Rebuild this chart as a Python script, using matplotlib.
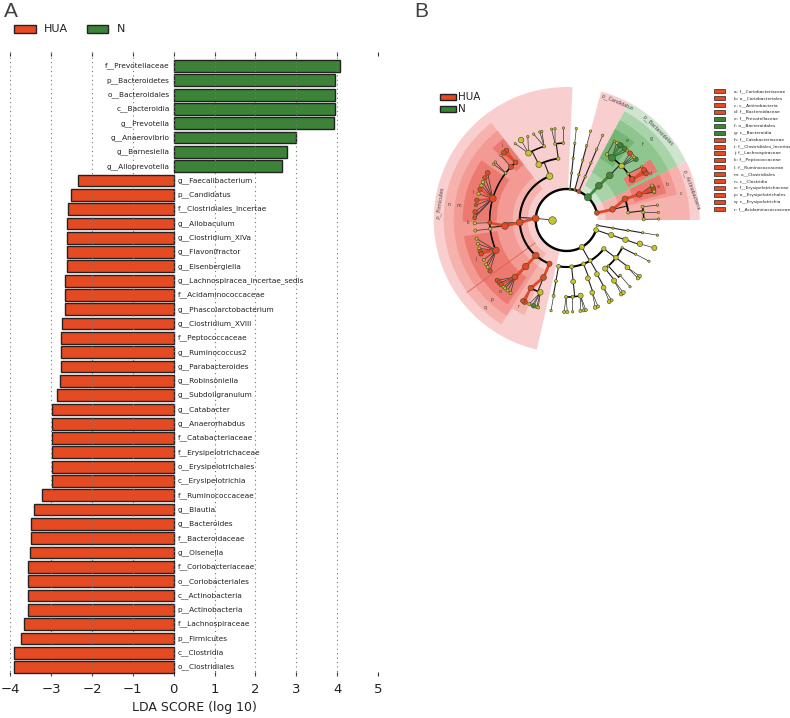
import numpy as np
import matplotlib
matplotlib.use('Agg')
import matplotlib.pyplot as plt
from matplotlib.patches import Rectangle

W, H = 790, 718
RED = '#e64a22'
GREEN = '#3c8338'
YEL = '#c4c42e'
COLS = {'r': '#e04a28', 'g': '#3d8a3d', 'y': YEL}

# ---- panel A data
hua_n_labels = ['f__Prevotellaceae', 'p__Bacteroidetes', 'o__Bacteroidales', 'c__Bacteroidia', 'g__Prevotella',
                'g__Anaerovibrio', 'g__Barnesiella', 'g__Alloprevotella', 'g__Faecalibacterium', 'p__Candidatus',
                'f__Clostridiales_Incertae', 'g__Allobaculum', 'g__Clostridium_XIVa', 'g__Flavonifractor',
                'g__Eisenbergiella', 'g__Lachnospiracea_incertae_sedis', 'f__Acidaminococcaceae',
                'g__Phascolarctobacterium', 'g__Clostridium_XVIII', 'f__Peptococcaceae', 'g__Ruminococcus2',
                'g__Parabacteroides', 'g__Robinsoniella', 'g__Subdoligranulum', 'g__Catabacter', 'g__Anaerorhabdus',
                'f__Catabacteriaceae', 'f__Erysipelotrichaceae', 'o__Erysipelotrichales', 'c__Erysipelotrichia',
                'f__Ruminococcaceae', 'g__Blautia', 'g__Bacteroides', 'f__Bacteroidaceae', 'g__Olsenella',
                'f__Coriobacteriaceae', 'o__Coriobacteriales', 'c__Actinobacteria', 'p__Actinobacteria',
                'f__Lachnospiraceae', 'p__Firmicutes', 'c__Clostridia', 'o__Clostridiales']
lda_scores = [4.08, 3.95, 3.95, 3.95, 3.92, 3.0, 2.77, 2.65, -2.35, -2.52, -2.58, -2.6, -2.61, -2.61, -2.61,
              -2.66, -2.66, -2.67, -2.74, -2.75, -2.75, -2.76, -2.78, -2.86, -2.97, -2.97, -2.97, -2.99, -2.99,
              -2.99, -3.22, -3.41, -3.49, -3.49, -3.53, -3.56, -3.56, -3.56, -3.56, -3.67, -3.75, -3.91, -3.91]
x_ticks = [-4, -3, -2, -1, 0, 1, 2, 3, 4, 5]

# ---- panel B data: tree, one set of lists per rank (angle in degrees, parent = index in rank above)
root_angle, root_size = 180, 30
level_radius = [15, 31, 47, 62, 77, 92]

phylum_angle = [177, 67, 84, 75, 47, 13.3, 350, 341.2, 299.3]
phylum_col = 'rryygryyy'
phylum_size = [24, 8, 2, 2, 26, 12, 3, 12, 14]

class_angle = [111.3, 183, 229, 248.5, 67, 84, 75, 46.8, 13, 350, 341.4, 322.3, 300, 291, 276, 260]
class_parent = [0, 0, 0, 0, 1, 2, 3, 4, 5, 6, 7, 8, 8, 8, 8, 8]
class_col = 'yrrryyygryyyyyyy'
class_size = [22, 24, 22, 14, 3, 3, 3, 24, 16, 3, 14, 10, 8, 8, 8, 8]

order_angle = [116.7, 97.8, 185.5, 228.6, 248, 67, 84, 75, 46, 19.8, 6.9, 350.4, 341.4, 333.4, 322.6, 312.2,
               308.4, 299.2, 290, 276, 260]
order_parent = [0, 0, 1, 2, 3, 4, 5, 6, 7, 8, 8, 9, 10, 11, 11, 11, 11, 12, 13, 14, 15]
order_col = 'yyrrryyygryyyyyyyyyyy'
order_size = [18, 6, 24, 22, 18, 3, 3, 3, 24, 18, 5, 3, 16, 3, 12, 3, 14, 12, 12, 12, 5]

family_angle = [119.7, 107, 98.7, 92.5, 131.6, 136.4, 142.5, 163.8, 182, 186.6, 203.2, 227.8, 242.2, 250, 67, 84,
                75, 58.4, 54, 44.5, 37, 31.8, 19.4, 9.9, 5.7, 0.5, 350.5, 342, 333.6, 322, 314, 308, 298.6, 289.4,
                280.4, 274.4, 269.5, 260.2]
family_parent = [0, 0, 1, 1, 2, 2, 2, 2, 2, 2, 2, 3, 4, 4, 5, 6, 7, 8, 8, 8, 8, 8, 9, 10, 10, 10, 11, 12, 13, 14,
                 15, 16, 17, 18, 19, 19, 19, 20]
family_col = 'yyyyrryrryrrryyyyygyyrryyyyyyyyyyyyyyy'
family_size = [18, 5, 4, 4, 12, 14, 4, 24, 8, 6, 22, 18, 16, 16, 3, 3, 3, 6, 26, 16, 4, 18, 16, 5, 5, 5, 3, 16, 3,
               12, 3, 14, 12, 12, 14, 5, 5, 5]

genus_angle = [124, 119.7, 115, 111, 107, 105.7, 99.4, 97.3, 92, 131, 133, 135.6, 140.9, 142.6,
               149.2, 152.7, 155.7, 158, 160.5, 163.4, 167.6, 170.7, 174.9, 177.5, 178.6, 182, 186.6,
               191.7, 195, 198, 200, 201.6, 205.6, 208.9, 210.8, 213.6,
               221, 223, 224.6, 226.6, 228, 230, 232.4, 242.9, 241.5, 246, 248, 249, 251, 252,
               67, 84, 75, 59, 49, 51, 54, 55, 57, 41.3, 43, 44.5, 46.5, 35.3, 31.7, 30.5, 33,
               20.5, 19, 22, 17.5, 18, 9.3, 4.7, 0.6, 350.5, 342.3, 333.4, 322.3, 320.7, 313.5, 306.4, 308,
               297.5, 299.2, 288.1, 289.9, 278.6, 280.7, 282, 273.7, 270.4, 268.4, 260.2]
genus_parent = [0, 0, 0, 1, 1, 1, 2, 2, 3, 4, 4, 5, 6, 6,
                7, 7, 7, 7, 7, 7, 7, 7, 7, 7, 7, 8, 9,
                10, 10, 10, 10, 10, 10, 10, 10, 10,
                11, 11, 11, 11, 11, 11, 11, 12, 12, 13, 13, 13, 13, 13,
                14, 15, 16, 17, 18, 18, 18, 18, 18, 19, 19, 19, 19, 20, 21, 21, 21,
                22, 22, 22, 22, 22, 23, 24, 25, 26, 27, 28, 29, 29, 30, 31, 31,
                32, 32, 33, 33, 34, 34, 34, 35, 36, 36, 37]
genus_col = ('yyy' 'yyy' 'yy' 'y' 'rr' 'y' 'yy'
             'rryyryrrry' 'r' 'y' 'y'
             'yyyrryyyr'
             'rrryyyy' 'rr' 'yygyy'
             'yyy' 'y' 'yggg' 'y' 'gyyr' 'y' 'rrr'
             'rryyy' 'yyy' 'y' 'y' 'y' 'yy' 'y' 'yy'
             'yy' 'yy' 'yyy' 'y' 'yy' 'y')
genus_size = [3, 16, 3, 3, 3, 3, 3, 3, 3, 12, 12, 3, 3, 3,
              12, 10, 6, 6, 10, 6, 10, 6, 10, 6, 8, 6, 5,
              5, 5, 5, 10, 10, 5, 5, 5, 10,
              10, 10, 10, 5, 5, 5, 5, 14, 10, 5, 5, 10, 5, 5,
              3, 3, 3, 3, 5, 12, 14, 12, 5, 12, 5, 5, 12, 3, 12, 12, 12,
              12, 10, 5, 5, 5, 3, 3, 3, 3, 14, 3, 8, 6, 3, 8, 8,
              8, 5, 8, 5, 5, 5, 5, 3, 5, 5, 3]

# clade background: start, end, inner radius, outer radius, colour
bg_start = [87.5, 62, 26, 0, 127.8, 216, 26, 0, 127.8, 216, 238, 26, 13,
            127.8, 145, 189, 216, 49, 28, 15]
bg_end = [257, 75, 62, 26, 216, 238, 62, 26, 216, 238, 246, 62, 26,
          136, 181, 216, 235, 62, 36, 26]
bg_inner = [31, 31, 31, 31, 39, 39, 39, 39, 54, 54, 54, 54, 54, 70, 70, 70, 70, 70, 70, 70]
bg_outer = [133, 133, 133, 133, 123, 123, 123, 123, 113, 113, 104, 113, 113,
            103, 104, 104, 103, 103, 103, 103]
bg_col = ['#f9cece', '#f9cece', '#cfe5cf', '#f9cece', '#f6b3ae', '#f6b3ae', '#a9d3a9', '#f6b3ae',
          '#f29a93', '#f29a93', '#f6b3ae', '#8fc58f', '#f29a93',
          '#ec7a70', '#ec7a70', '#ec7a70', '#ec7a70', '#76b576', '#ec7a70', '#ec7a70']

clade_labels = ['p__Firmicutes', 'p__Candidatus', 'p__Bacteroidetes', 'p__Actinobacteria']
clade_label_angle = [172.4, 66.8, 44.7, 13.6]
clade_label_rot = [82, -23, -45, -70]
letter_text = list('nmlkjiqpor') + list('abcdefg')
letter_angle = [172.7, 172.6, 163.4, 181.7, 203, 131, 227, 227, 227, 241, 20, 19.6, 13, 29, 52.7, 44.6, 44]
letter_radius = [119, 109, 98, 99, 99, 99, 119, 109, 98, 98.5, 97, 107, 117, 96, 100, 107, 117]

key_labels = ['a: f__Coriobacteriaceae', 'b: o__Coriobacteriales', 'c: c__Actinobacteria', 'd: f__Bacteroidaceae',
              'e: f__Prevotellaceae', 'f: o__Bacteroidales', 'g: c__Bacteroidia', 'h: f__Catabacteriaceae',
              'i: f__Clostridiales_Incertae', 'j: f__Lachnospiraceae', 'k: f__Peptococcaceae',
              'l: f__Ruminococcaceae', 'm: o__Clostridiales', 'n: c__Clostridia', 'o: f__Erysipelotrichaceae',
              'p: o__Erysipelotrichales', 'q: c__Erysipelotrichia', 'r: f__Acidaminococcaceae']
key_groups = 'rrrrgggrrrrrrrrrrr'


def fx(px):
    return px / W


def fy(py):
    return 1 - py / H


def swatch(fig, x0, y0, w, h, col, lw=1.0):
    fig.add_artist(Rectangle((fx(x0), fy(y0 + h)), w / W, h / H, transform=fig.transFigure,
                             facecolor=col, edgecolor='#222222', linewidth=lw))


fig = plt.figure(figsize=(W / 100, H / 100), dpi=100)

# ---- panel A
ax = fig.add_axes([fx(10.3), fy(676), fx(378) - fx(10.3), fy(52) - fy(676)])
n = len(lda_scores)
ypos = [n - 1 - i for i in range(n)]
bar_cols = [GREEN if v > 0 else RED for v in lda_scores]
ax.barh(ypos, lda_scores, height=0.82, color=bar_cols, edgecolor='#222222', linewidth=1.0, zorder=2)
for y, v, lab in zip(ypos, lda_scores, hua_n_labels):
    if v > 0:
        ax.text(-0.1, y, lab, ha='right', va='center', fontsize=5.3, color='#222222', zorder=5)
    else:
        ax.text(0.1, y, lab, ha='left', va='center', fontsize=5.3, color='#222222', zorder=5)
for t in x_ticks:
    # the last gridline only shows in the lower half of the original
    y_top = 19.5 if t == 5 else 42.98
    ax.vlines(t, -0.63, y_top, color='#777777', linewidth=0.8, linestyle=(0, (1, 3)), zorder=3)
ax.set_xlim(-4, 5)
ax.set_ylim(-0.63, 42.98)
ax.set_yticks([])
ax.set_xticks(x_ticks)
ax.tick_params(axis='x', top=True, bottom=True, direction='in', length=3, width=0.8, color='#333333',
               labelsize=9.5, pad=5, labelcolor='#222222')
for s in ax.spines.values():
    s.set_visible(False)
ax.set_xlabel('LDA SCORE (log 10)', fontsize=9, color='#222222', labelpad=4)

fig.text(fx(11), fy(17), 'A', fontsize=15, color='#404040', family='Liberation Sans', ha='center', va='baseline')
fig.text(fx(421), fy(17), 'B', fontsize=15, color='#404040', family='Liberation Sans', ha='center', va='baseline')

swatch(fig, 14, 25, 22, 8, RED)
fig.text(fx(44), fy(29), 'HUA', fontsize=8, color='#222222', va='center')
swatch(fig, 87, 25, 21, 8, GREEN)
fig.text(fx(117), fy(29), 'N', fontsize=8, color='#222222', va='center')

# ---- panel B
cx, cy, rmax = 566.7, 220, 140
pol = fig.add_axes([fx(cx - rmax), fy(cy + rmax), 2 * rmax / W, 2 * rmax / H], projection='polar')
pol.set_ylim(0, rmax)
pol.axis('off')
for a, b, r0, r1, c in zip(bg_start, bg_end, bg_inner, bg_outer, bg_col):
    pol.bar(np.radians(a), r1 - r0, width=np.radians(b - a), bottom=r0, align='edge', color=c, linewidth=0, zorder=1)
pol.plot(np.radians([216, 216]), [39, 123], color='#d9605a', linewidth=0.6, zorder=1.5)

ranks = [
    ([root_angle], [-1], 'y', [root_size]),
    (phylum_angle, [0] * len(phylum_angle), phylum_col, phylum_size),
    (class_angle, class_parent, class_col, class_size),
    (order_angle, order_parent, order_col, order_size),
    (family_angle, family_parent, family_col, family_size),
    (genus_angle, genus_parent, genus_col, genus_size),
]
arc_width = [0, 1.6, 1.5, 1.3, 1.1]

for lev in range(2, 6):
    ang, par, col, size = ranks[lev]
    p_ang, p_col = ranks[lev - 1][0], ranks[lev - 1][2]
    r0, r1 = level_radius[lev - 1], level_radius[lev]
    if lev == 5:
        # genera fan straight out of the family
        for a, p, c in zip(ang, par, col):
            pol.plot(np.radians([p_ang[p], a]), [r0, r1], color='#333333', linewidth=0.5, zorder=3)
            if c == p_col[p] and c != 'y' and abs(a - p_ang[p]) < 4:
                pol.plot(np.radians([p_ang[p], a]), [r0, r1], color=COLS[c], linewidth=1.2, zorder=3.1)
    else:
        for p in sorted(set(par)):
            kids = [a for a, q in zip(ang, par) if q == p]
            lo, hi = min(kids + [p_ang[p]]), max(kids + [p_ang[p]])
            th = np.radians(np.linspace(lo, hi, 60))
            if hi - lo > 1:
                pol.plot(th, [r1] * 60, color='black', linewidth=arc_width[lev], zorder=3, solid_capstyle='round')
            pol.plot(np.radians([p_ang[p], p_ang[p]]), [r0, r1], color='#222222', linewidth=0.8, zorder=3)
            for a, q, c in zip(ang, par, col):
                if q == p and c == p_col[p] and c != 'y' and abs(a - p_ang[p]) < 7:
                    pol.plot(np.radians([p_ang[p], a]), [r0, r1], color=COLS[c], linewidth=2.0, zorder=3.1)
    pol.scatter(np.radians(ang), [r1] * len(ang), s=size, c=[COLS[c] for c in col],
                edgecolors='#444422', linewidths=0.4, zorder=4)

# the inner ring is one long arc through the left side, with a gap at the right
th = np.radians(np.linspace(13.3, 341.2, 200))
pol.plot(th, [level_radius[1]] * 200, color='black', linewidth=1.7, zorder=3)
pol.scatter(np.radians(phylum_angle), [level_radius[1]] * len(phylum_angle), s=phylum_size,
            c=[COLS[c] for c in phylum_col], edgecolors='#444422', linewidths=0.4, zorder=4)
pol.plot(np.radians([177, 180]), [31, 15], color='#444444', linewidth=0.7, zorder=3)
pol.scatter(np.radians([root_angle]), [level_radius[0]], s=root_size, c=YEL, edgecolors='#444422', linewidths=0.4, zorder=4)

for lab, a, rot in zip(clade_labels, clade_label_angle, clade_label_rot):
    pol.text(np.radians(a), 128, lab, fontsize=3.4, color='#444444', rotation=rot, ha='center', va='center', zorder=5)
for lab, a, r in zip(letter_text, letter_angle, letter_radius):
    pol.text(np.radians(a), r, lab, fontsize=3.4, color='#444444', ha='center', va='center', zorder=5)

swatch(fig, 440, 94, 16, 6, RED)
fig.text(fx(458), fy(97), 'HUA', fontsize=7.5, color='#222222', va='center')
swatch(fig, 440, 106, 16, 6, GREEN)
fig.text(fx(458), fy(109), 'N', fontsize=7.5, color='#222222', va='center')

for i, (lab, g) in enumerate(zip(key_labels, key_groups)):
    y = 91 + i * 6.94
    swatch(fig, 714, y - 2, 11, 4, RED if g == 'r' else GREEN, lw=0.5)
    fig.text(fx(734), fy(y), lab, fontsize=3.2, color='#222222', va='center')

fig.savefig('out.png', dpi=100)
